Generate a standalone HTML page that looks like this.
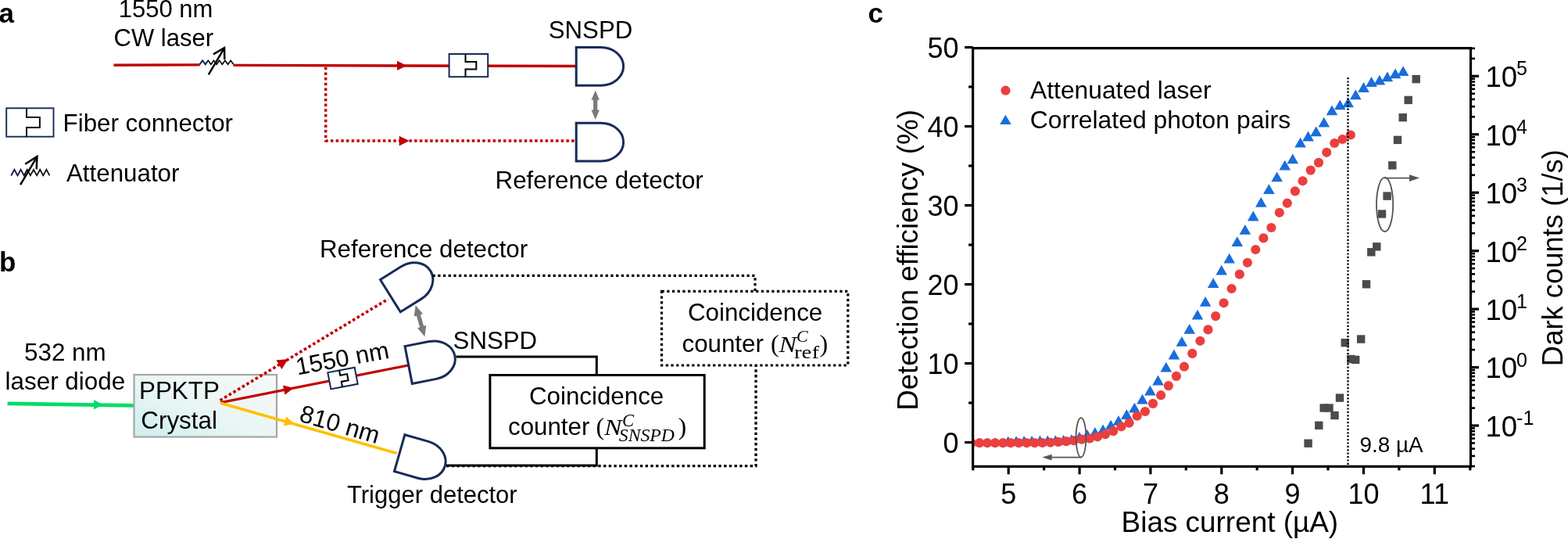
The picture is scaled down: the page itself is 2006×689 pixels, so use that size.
<!DOCTYPE html><html><head><meta charset="utf-8"><style>html,body{margin:0;padding:0;background:#fff;overflow:hidden;width:2006px;height:689px}svg{display:block}</style></head><body><svg width="2006" height="689" viewBox="0 0 2006 689">
<defs><linearGradient id="cg" x1="0" y1="1" x2="1" y2="0"><stop offset="0" stop-color="#cdefee"/><stop offset="0.45" stop-color="#e9f6f5"/><stop offset="1" stop-color="#f8f8f8"/></linearGradient></defs>
<rect width="2006" height="689" fill="#fff"/>
<text x="-1.5" y="29.3" font-size="35" font-family="'Liberation Sans', Arial, sans-serif" font-weight="bold" text-anchor="start" fill="#000" >a</text>
<text x="-1.0" y="347.3" font-size="35" font-family="'Liberation Sans', Arial, sans-serif" font-weight="bold" text-anchor="start" fill="#000" >b</text>
<text x="1110.5" y="29.3" font-size="35" font-family="'Liberation Sans', Arial, sans-serif" font-weight="bold" text-anchor="start" fill="#000" >c</text>
<text x="151.8" y="22.3" font-size="31" font-family="'Liberation Sans', Arial, sans-serif" font-weight="normal" text-anchor="start" fill="#000" >1550 nm</text>
<text x="145.5" y="59.0" font-size="31" font-family="'Liberation Sans', Arial, sans-serif" font-weight="normal" text-anchor="start" fill="#000" >CW laser</text>
<line x1="145.5" y1="83.3" x2="255.7" y2="82.9" stroke="#c00000" stroke-width="3.4" />
<line x1="298.5" y1="83.4" x2="737.0" y2="84.5" stroke="#c00000" stroke-width="3.4" />
<polyline points="255.5,82.3 259.1,77.3 262.7,82.3 266.3,77.3 269.9,82.3 273.5,77.3 277.1,82.3 280.7,77.3 284.3,82.3 287.9,77.3 291.5,82.3 295.1,77.3 298.7,82.3" fill="none" stroke="#000" stroke-width="1.6"/>
<polyline points="255.5,82.3 259.1,77.3 262.7,82.3 266.3,77.3" fill="none" stroke="#172b57" stroke-width="1.6"/>
<line x1="266.8" y1="95.3" x2="287.0" y2="61.4" stroke="#000" stroke-width="2.5" />
<polyline points="272.9,69.3 287.0,61.2 287.3,76.1" fill="none" stroke="#000" stroke-width="2.5"/>
<polygon points="520.5,83.9 508.0,90.1 508.0,77.7" fill="#c00000" />
<g >
<rect x="574.6" y="69.0" width="49.6" height="29.2" fill="#fff" stroke="#172b57" stroke-width="2.0"/>
<path d="M595.5,69.0 V79.1 H609.3 V88.4 H595.5 V98.2" fill="none" stroke="#000" stroke-width="2.0"/>
</g>
<polyline points="416.7,84 416.7,180 737,180" fill="none" stroke="#c00000" stroke-width="3.5" stroke-dasharray="3.5 3.2" stroke-dashoffset="5"/>
<polygon points="523.5,180.1 510.7,186.4 510.7,173.8" fill="#c00000" />
<path transform="translate(737.2,60.5) rotate(0)" d="M0,0 H31.5 A28.9,24.35 0 0 1 31.5,48.7 H0 Z" fill="none" stroke="#172b57" stroke-width="3" stroke-linejoin="miter"/>
<path transform="translate(737.2,157.3) rotate(0)" d="M0,0 H31.5 A28.9,24.35 0 0 1 31.5,48.7 H0 Z" fill="none" stroke="#172b57" stroke-width="3" stroke-linejoin="miter"/>
<polygon transform="translate(761.7,134.2) rotate(0)" points="0.0,-18.8 5.2,-6.4 2.6,-6.4 2.6,6.4 5.2,6.4 0.0,18.8 -5.2,6.4 -2.6,6.4 -2.6,-6.4 -5.2,-6.4" fill="#7c7979"/>
<text x="701.8" y="49.0" font-size="31.2" font-family="'Liberation Sans', Arial, sans-serif" font-weight="normal" text-anchor="start" fill="#000" >SNSPD</text>
<text x="633.6" y="240.7" font-size="31.3" font-family="'Liberation Sans', Arial, sans-serif" font-weight="normal" text-anchor="start" fill="#000" >Reference detector</text>
<g >
<rect x="8.2" y="138.3" width="60.3" height="36.4" fill="#fff" stroke="#172b57" stroke-width="1.9"/>
<path d="M34.0,138.3 V149.9 H50.9 V163.0 H34.0 V174.7" fill="none" stroke="#000" stroke-width="1.9"/>
</g>
<text x="80.6" y="167.7" font-size="31.3" font-family="'Liberation Sans', Arial, sans-serif" font-weight="normal" text-anchor="start" fill="#000" >Fiber connector</text>
<polyline points="14.3,224.4 18.4,216.8 22.5,224.4 26.6,216.8 30.7,224.4 34.8,216.8 38.9,224.4 43.0,216.8 47.1,224.4 51.2,216.8 55.3,224.4 59.4,216.8 63.5,224.4" fill="none" stroke="#000" stroke-width="1.6"/>
<polyline points="14.3,224.4 18.4,216.8 22.5,224.4 26.6,216.8" fill="none" stroke="#172b57" stroke-width="1.6"/>
<line x1="26.1" y1="236.1" x2="47.4" y2="200.4" stroke="#000" stroke-width="2.5" />
<polyline points="32.2,209.8 47.4,200.2 46.7,216.4" fill="none" stroke="#000" stroke-width="2.5"/>
<text x="85.0" y="231.6" font-size="31.3" font-family="'Liberation Sans', Arial, sans-serif" font-weight="normal" text-anchor="start" fill="#000" >Attenuator</text>
<text x="31.0" y="460.9" font-size="31.4" font-family="'Liberation Sans', Arial, sans-serif" font-weight="normal" text-anchor="start" fill="#000" >532 nm</text>
<text x="6.6" y="498.4" font-size="31.4" font-family="'Liberation Sans', Arial, sans-serif" font-weight="normal" text-anchor="start" fill="#000" >laser diode</text>
<line x1="9.6" y1="515.9" x2="171.5" y2="518.4" stroke="#00dd66" stroke-width="4.6" />
<polygon points="131.5,517.4 119.9,523.4 120.1,511.0" fill="#00dd66" />
<rect x="171.5" y="479.0" width="182.5" height="79.5" fill="url(#cg)" stroke="#a6a6a6" stroke-width="2.2"/>
<text x="178.0" y="509.8" font-size="31.4" font-family="'Liberation Sans', Arial, sans-serif" font-weight="normal" text-anchor="start" fill="#000" >PPKTP</text>
<text x="180.3" y="547.5" font-size="31.4" font-family="'Liberation Sans', Arial, sans-serif" font-weight="normal" text-anchor="start" fill="#000" >Crystal</text>
<line x1="281.5" y1="511.8" x2="496.5" y2="382.3" stroke="#c00000" stroke-width="3.6" stroke-dasharray="3.6 3.0"/>
<line x1="282.3" y1="514.6" x2="523.3" y2="466.8" stroke="#c00000" stroke-width="3.2" />
<line x1="282.3" y1="515.2" x2="507.8" y2="579.5" stroke="#ffc000" stroke-width="3.6" />
<polygon points="368.5,459.2 360.4,472.0 353.4,460.3" fill="#c00000" />
<polygon points="375.5,496.1 364.5,504.7 362.0,492.4" fill="#c00000" />
<polygon points="376.5,541.8 362.7,544.4 366.2,532.3" fill="#ffc000" />
<g transform="rotate(-10.8 438.5 483.6)">
<rect x="421.0" y="472.8" width="35.0" height="21.5" fill="#fff" stroke="#172b57" stroke-width="2.0"/>
<path d="M436.0,472.8 V479.2 H445.0 V487.5 H436.0 V494.3" fill="none" stroke="#000" stroke-width="2.0"/>
</g>
<path transform="translate(486.5,357.5) rotate(-32)" d="M0,0 H31.5 A28.9,24.35 0 0 1 31.5,48.7 H0 Z" fill="none" stroke="#172b57" stroke-width="3" stroke-linejoin="miter"/>
<path transform="translate(518.0,442.6) rotate(-11)" d="M0,0 H31.5 A28.9,24.35 0 0 1 31.5,48.7 H0 Z" fill="none" stroke="#172b57" stroke-width="3" stroke-linejoin="miter"/>
<path transform="translate(517.9,555.7) rotate(16)" d="M0,0 H31.5 A28.9,24.35 0 0 1 31.5,48.7 H0 Z" fill="none" stroke="#172b57" stroke-width="3" stroke-linejoin="miter"/>
<polygon transform="translate(537.5,410.2) rotate(-16.4)" points="0.0,-20.8 5.9,-7.6 2.6,-7.6 2.6,7.6 5.9,7.6 0.0,20.8 -5.9,7.6 -2.6,7.6 -2.6,-7.6 -5.9,-7.6" fill="#7c7979"/>
<text x="0.0" y="0.0" font-size="31" font-family="'Liberation Sans', Arial, sans-serif" font-weight="normal" text-anchor="start" fill="#000" transform="translate(380.5,479.5) rotate(-10.5)">1550 nm</text>
<text x="0.0" y="0.0" font-size="31.4" font-family="'Liberation Sans', Arial, sans-serif" font-weight="normal" text-anchor="start" fill="#000" transform="translate(381.5,538.0) rotate(16.3)">810 nm</text>
<text x="409.0" y="328.6" font-size="31.3" font-family="'Liberation Sans', Arial, sans-serif" font-weight="normal" text-anchor="start" fill="#000" >Reference detector</text>
<text x="579.6" y="446.1" font-size="31.2" font-family="'Liberation Sans', Arial, sans-serif" font-weight="normal" text-anchor="start" fill="#000" >SNSPD</text>
<text x="444.0" y="643.1" font-size="31" font-family="'Liberation Sans', Arial, sans-serif" font-weight="normal" text-anchor="start" fill="#000" >Trigger detector</text>
<polyline points="583.6,456 763.3,456 763.3,479.5" fill="none" stroke="#000" stroke-width="3"/>
<rect x="626.9" y="479.5" width="274.3" height="93.3" fill="none" stroke="#000" stroke-width="3"/>
<polyline points="763.3,572.8 763.3,595.0 571.0,595.0" fill="none" stroke="#000" stroke-width="3"/>
<polyline points="571,595.6 967,595.6 967,467" fill="none" stroke="#000" stroke-width="3.3" stroke-dasharray="3.4 3.3"/>
<rect x="846.5" y="372.3" width="238.3" height="94.7" fill="none" stroke="#000" stroke-width="3.2" stroke-dasharray="3.3 3.4"/>
<polyline points="553.5,352.4 966,352.4 966,372.3" fill="none" stroke="#000" stroke-width="3.2" stroke-dasharray="3.3 3.4"/>
<text x="677.0" y="517.2" font-size="31.3" font-family="'Liberation Sans', Arial, sans-serif" font-weight="normal" text-anchor="start" fill="#000" >Coincidence</text>
<text x="650.0" y="556.3" font-size="31.3" font-family="'Liberation Sans', Arial, sans-serif">counter</text>
<text x="762.5" y="556.3" font-size="32" font-family="'Liberation Serif', 'Times New Roman', serif"  >(</text>
<text x="773.0" y="556.3" font-size="30" font-family="'Liberation Serif', 'Times New Roman', serif" font-style="italic" textLength="22.5" lengthAdjust="spacingAndGlyphs">N</text>
<text x="796.0" y="544.6" font-size="22.6" font-family="'Liberation Serif', 'Times New Roman', serif" font-style="italic" >C</text>
<text x="791.8" y="564.0" font-size="22.6" font-family="'Liberation Serif', 'Times New Roman', serif" font-style="italic" textLength="71" lengthAdjust="spacingAndGlyphs">SNSPD</text>
<text x="867.5" y="556.3" font-size="32" font-family="'Liberation Serif', 'Times New Roman', serif"  >)</text>
<text x="880.0" y="410.1" font-size="31.3" font-family="'Liberation Sans', Arial, sans-serif" font-weight="normal" text-anchor="start" fill="#000" >Coincidence</text>
<text x="872.5" y="449.7" font-size="31.3" font-family="'Liberation Sans', Arial, sans-serif">counter</text>
<text x="986.0" y="449.7" font-size="32" font-family="'Liberation Serif', 'Times New Roman', serif"  >(</text>
<text x="996.5" y="449.7" font-size="30" font-family="'Liberation Serif', 'Times New Roman', serif" font-style="italic" textLength="22.5" lengthAdjust="spacingAndGlyphs">N</text>
<text x="1019.0" y="437.1" font-size="22" font-family="'Liberation Serif', 'Times New Roman', serif" font-style="italic" >C</text>
<text x="1016.0" y="457.8" font-size="24" font-family="'Liberation Serif', 'Times New Roman', serif"  textLength="32" lengthAdjust="spacingAndGlyphs">ref</text>
<text x="1048.5" y="449.7" font-size="32" font-family="'Liberation Serif', 'Times New Roman', serif"  >)</text>
<line x1="1234.1" y1="565.5" x2="1244.6" y2="565.5" stroke="#000" stroke-width="3.2" />
<text x="1226.5" y="578.5" font-size="36" font-family="'Liberation Sans', Arial, sans-serif" font-weight="normal" text-anchor="end" fill="#000" >0</text>
<line x1="1234.1" y1="464.5" x2="1244.6" y2="464.5" stroke="#000" stroke-width="3.2" />
<text x="1226.5" y="477.5" font-size="36" font-family="'Liberation Sans', Arial, sans-serif" font-weight="normal" text-anchor="end" fill="#000" >10</text>
<line x1="1234.1" y1="363.5" x2="1244.6" y2="363.5" stroke="#000" stroke-width="3.2" />
<text x="1226.5" y="376.5" font-size="36" font-family="'Liberation Sans', Arial, sans-serif" font-weight="normal" text-anchor="end" fill="#000" >20</text>
<line x1="1234.1" y1="262.5" x2="1244.6" y2="262.5" stroke="#000" stroke-width="3.2" />
<text x="1226.5" y="275.5" font-size="36" font-family="'Liberation Sans', Arial, sans-serif" font-weight="normal" text-anchor="end" fill="#000" >30</text>
<line x1="1234.1" y1="161.5" x2="1244.6" y2="161.5" stroke="#000" stroke-width="3.2" />
<text x="1226.5" y="174.5" font-size="36" font-family="'Liberation Sans', Arial, sans-serif" font-weight="normal" text-anchor="end" fill="#000" >40</text>
<line x1="1234.1" y1="60.5" x2="1244.6" y2="60.5" stroke="#000" stroke-width="3.2" />
<text x="1226.5" y="73.5" font-size="36" font-family="'Liberation Sans', Arial, sans-serif" font-weight="normal" text-anchor="end" fill="#000" >50</text>
<line x1="1239.1" y1="515.0" x2="1244.6" y2="515.0" stroke="#000" stroke-width="3.2" />
<line x1="1239.1" y1="414.0" x2="1244.6" y2="414.0" stroke="#000" stroke-width="3.2" />
<line x1="1239.1" y1="313.0" x2="1244.6" y2="313.0" stroke="#000" stroke-width="3.2" />
<line x1="1239.1" y1="212.0" x2="1244.6" y2="212.0" stroke="#000" stroke-width="3.2" />
<line x1="1239.1" y1="111.0" x2="1244.6" y2="111.0" stroke="#000" stroke-width="3.2" />
<line x1="1290.2" y1="596.3" x2="1290.2" y2="606.3" stroke="#000" stroke-width="3.2" />
<text x="1290.2" y="643.5" font-size="36" font-family="'Liberation Sans', Arial, sans-serif" font-weight="normal" text-anchor="middle" fill="#000" >5</text>
<line x1="1381.1" y1="596.3" x2="1381.1" y2="606.3" stroke="#000" stroke-width="3.2" />
<text x="1381.1" y="643.5" font-size="36" font-family="'Liberation Sans', Arial, sans-serif" font-weight="normal" text-anchor="middle" fill="#000" >6</text>
<line x1="1471.9" y1="596.3" x2="1471.9" y2="606.3" stroke="#000" stroke-width="3.2" />
<text x="1471.9" y="643.5" font-size="36" font-family="'Liberation Sans', Arial, sans-serif" font-weight="normal" text-anchor="middle" fill="#000" >7</text>
<line x1="1562.8" y1="596.3" x2="1562.8" y2="606.3" stroke="#000" stroke-width="3.2" />
<text x="1562.8" y="643.5" font-size="36" font-family="'Liberation Sans', Arial, sans-serif" font-weight="normal" text-anchor="middle" fill="#000" >8</text>
<line x1="1653.6" y1="596.3" x2="1653.6" y2="606.3" stroke="#000" stroke-width="3.2" />
<text x="1653.6" y="643.5" font-size="36" font-family="'Liberation Sans', Arial, sans-serif" font-weight="normal" text-anchor="middle" fill="#000" >9</text>
<line x1="1744.5" y1="596.3" x2="1744.5" y2="606.3" stroke="#000" stroke-width="3.2" />
<text x="1744.5" y="643.5" font-size="36" font-family="'Liberation Sans', Arial, sans-serif" font-weight="normal" text-anchor="middle" fill="#000" >10</text>
<line x1="1835.3" y1="596.3" x2="1835.3" y2="606.3" stroke="#000" stroke-width="3.2" />
<text x="1835.3" y="643.5" font-size="36" font-family="'Liberation Sans', Arial, sans-serif" font-weight="normal" text-anchor="middle" fill="#000" >11</text>
<line x1="1244.8" y1="596.3" x2="1244.8" y2="601.3" stroke="#000" stroke-width="3.2" />
<line x1="1335.6" y1="596.3" x2="1335.6" y2="601.3" stroke="#000" stroke-width="3.2" />
<line x1="1426.5" y1="596.3" x2="1426.5" y2="601.3" stroke="#000" stroke-width="3.2" />
<line x1="1517.3" y1="596.3" x2="1517.3" y2="601.3" stroke="#000" stroke-width="3.2" />
<line x1="1608.2" y1="596.3" x2="1608.2" y2="601.3" stroke="#000" stroke-width="3.2" />
<line x1="1699.0" y1="596.3" x2="1699.0" y2="601.3" stroke="#000" stroke-width="3.2" />
<line x1="1789.9" y1="596.3" x2="1789.9" y2="601.3" stroke="#000" stroke-width="3.2" />
<line x1="1880.8" y1="596.3" x2="1880.8" y2="601.3" stroke="#000" stroke-width="3.2" />
<line x1="1881.5" y1="596.0" x2="1887.0" y2="596.0" stroke="#000" stroke-width="2.6" />
<line x1="1881.5" y1="582.9" x2="1887.0" y2="582.9" stroke="#000" stroke-width="2.6" />
<line x1="1881.5" y1="573.6" x2="1887.0" y2="573.6" stroke="#000" stroke-width="2.6" />
<line x1="1881.5" y1="566.4" x2="1887.0" y2="566.4" stroke="#000" stroke-width="2.6" />
<line x1="1881.5" y1="560.5" x2="1887.0" y2="560.5" stroke="#000" stroke-width="2.6" />
<line x1="1881.5" y1="555.5" x2="1887.0" y2="555.5" stroke="#000" stroke-width="2.6" />
<line x1="1881.5" y1="551.2" x2="1887.0" y2="551.2" stroke="#000" stroke-width="2.6" />
<line x1="1881.5" y1="547.4" x2="1887.0" y2="547.4" stroke="#000" stroke-width="2.6" />
<line x1="1881.5" y1="544.0" x2="1892.0" y2="544.0" stroke="#000" stroke-width="3.2" />
<text x="1900.5" y="557.8" font-size="36.5" font-family="'Liberation Sans', Arial, sans-serif">10<tspan dx="-1.0" dy="-14.9" font-size="25">-1</tspan></text>
<line x1="1881.5" y1="521.6" x2="1887.0" y2="521.6" stroke="#000" stroke-width="2.6" />
<line x1="1881.5" y1="508.5" x2="1887.0" y2="508.5" stroke="#000" stroke-width="2.6" />
<line x1="1881.5" y1="499.2" x2="1887.0" y2="499.2" stroke="#000" stroke-width="2.6" />
<line x1="1881.5" y1="492.0" x2="1887.0" y2="492.0" stroke="#000" stroke-width="2.6" />
<line x1="1881.5" y1="486.1" x2="1887.0" y2="486.1" stroke="#000" stroke-width="2.6" />
<line x1="1881.5" y1="481.1" x2="1887.0" y2="481.1" stroke="#000" stroke-width="2.6" />
<line x1="1881.5" y1="476.8" x2="1887.0" y2="476.8" stroke="#000" stroke-width="2.6" />
<line x1="1881.5" y1="473.0" x2="1887.0" y2="473.0" stroke="#000" stroke-width="2.6" />
<line x1="1881.5" y1="469.6" x2="1892.0" y2="469.6" stroke="#000" stroke-width="3.2" />
<text x="1900.5" y="483.4" font-size="36.5" font-family="'Liberation Sans', Arial, sans-serif">10<tspan dx="-1.0" dy="-14.9" font-size="25">0</tspan></text>
<line x1="1881.5" y1="447.1" x2="1887.0" y2="447.1" stroke="#000" stroke-width="2.6" />
<line x1="1881.5" y1="434.0" x2="1887.0" y2="434.0" stroke="#000" stroke-width="2.6" />
<line x1="1881.5" y1="424.7" x2="1887.0" y2="424.7" stroke="#000" stroke-width="2.6" />
<line x1="1881.5" y1="417.5" x2="1887.0" y2="417.5" stroke="#000" stroke-width="2.6" />
<line x1="1881.5" y1="411.6" x2="1887.0" y2="411.6" stroke="#000" stroke-width="2.6" />
<line x1="1881.5" y1="406.6" x2="1887.0" y2="406.6" stroke="#000" stroke-width="2.6" />
<line x1="1881.5" y1="402.3" x2="1887.0" y2="402.3" stroke="#000" stroke-width="2.6" />
<line x1="1881.5" y1="398.5" x2="1887.0" y2="398.5" stroke="#000" stroke-width="2.6" />
<line x1="1881.5" y1="395.1" x2="1892.0" y2="395.1" stroke="#000" stroke-width="3.2" />
<text x="1900.5" y="408.9" font-size="36.5" font-family="'Liberation Sans', Arial, sans-serif">10<tspan dx="-1.0" dy="-14.9" font-size="25">1</tspan></text>
<line x1="1881.5" y1="372.7" x2="1887.0" y2="372.7" stroke="#000" stroke-width="2.6" />
<line x1="1881.5" y1="359.6" x2="1887.0" y2="359.6" stroke="#000" stroke-width="2.6" />
<line x1="1881.5" y1="350.3" x2="1887.0" y2="350.3" stroke="#000" stroke-width="2.6" />
<line x1="1881.5" y1="343.1" x2="1887.0" y2="343.1" stroke="#000" stroke-width="2.6" />
<line x1="1881.5" y1="337.2" x2="1887.0" y2="337.2" stroke="#000" stroke-width="2.6" />
<line x1="1881.5" y1="332.2" x2="1887.0" y2="332.2" stroke="#000" stroke-width="2.6" />
<line x1="1881.5" y1="327.9" x2="1887.0" y2="327.9" stroke="#000" stroke-width="2.6" />
<line x1="1881.5" y1="324.1" x2="1887.0" y2="324.1" stroke="#000" stroke-width="2.6" />
<line x1="1881.5" y1="320.7" x2="1892.0" y2="320.7" stroke="#000" stroke-width="3.2" />
<text x="1900.5" y="334.5" font-size="36.5" font-family="'Liberation Sans', Arial, sans-serif">10<tspan dx="-1.0" dy="-14.9" font-size="25">2</tspan></text>
<line x1="1881.5" y1="298.2" x2="1887.0" y2="298.2" stroke="#000" stroke-width="2.6" />
<line x1="1881.5" y1="285.1" x2="1887.0" y2="285.1" stroke="#000" stroke-width="2.6" />
<line x1="1881.5" y1="275.8" x2="1887.0" y2="275.8" stroke="#000" stroke-width="2.6" />
<line x1="1881.5" y1="268.6" x2="1887.0" y2="268.6" stroke="#000" stroke-width="2.6" />
<line x1="1881.5" y1="262.7" x2="1887.0" y2="262.7" stroke="#000" stroke-width="2.6" />
<line x1="1881.5" y1="257.7" x2="1887.0" y2="257.7" stroke="#000" stroke-width="2.6" />
<line x1="1881.5" y1="253.4" x2="1887.0" y2="253.4" stroke="#000" stroke-width="2.6" />
<line x1="1881.5" y1="249.6" x2="1887.0" y2="249.6" stroke="#000" stroke-width="2.6" />
<line x1="1881.5" y1="246.2" x2="1892.0" y2="246.2" stroke="#000" stroke-width="3.2" />
<text x="1900.5" y="260.0" font-size="36.5" font-family="'Liberation Sans', Arial, sans-serif">10<tspan dx="-1.0" dy="-14.9" font-size="25">3</tspan></text>
<line x1="1881.5" y1="223.8" x2="1887.0" y2="223.8" stroke="#000" stroke-width="2.6" />
<line x1="1881.5" y1="210.7" x2="1887.0" y2="210.7" stroke="#000" stroke-width="2.6" />
<line x1="1881.5" y1="201.4" x2="1887.0" y2="201.4" stroke="#000" stroke-width="2.6" />
<line x1="1881.5" y1="194.2" x2="1887.0" y2="194.2" stroke="#000" stroke-width="2.6" />
<line x1="1881.5" y1="188.3" x2="1887.0" y2="188.3" stroke="#000" stroke-width="2.6" />
<line x1="1881.5" y1="183.3" x2="1887.0" y2="183.3" stroke="#000" stroke-width="2.6" />
<line x1="1881.5" y1="179.0" x2="1887.0" y2="179.0" stroke="#000" stroke-width="2.6" />
<line x1="1881.5" y1="175.2" x2="1887.0" y2="175.2" stroke="#000" stroke-width="2.6" />
<line x1="1881.5" y1="171.8" x2="1892.0" y2="171.8" stroke="#000" stroke-width="3.2" />
<text x="1900.5" y="185.6" font-size="36.5" font-family="'Liberation Sans', Arial, sans-serif">10<tspan dx="-1.0" dy="-14.9" font-size="25">4</tspan></text>
<line x1="1881.5" y1="149.3" x2="1887.0" y2="149.3" stroke="#000" stroke-width="2.6" />
<line x1="1881.5" y1="136.2" x2="1887.0" y2="136.2" stroke="#000" stroke-width="2.6" />
<line x1="1881.5" y1="126.9" x2="1887.0" y2="126.9" stroke="#000" stroke-width="2.6" />
<line x1="1881.5" y1="119.7" x2="1887.0" y2="119.7" stroke="#000" stroke-width="2.6" />
<line x1="1881.5" y1="113.8" x2="1887.0" y2="113.8" stroke="#000" stroke-width="2.6" />
<line x1="1881.5" y1="108.8" x2="1887.0" y2="108.8" stroke="#000" stroke-width="2.6" />
<line x1="1881.5" y1="104.5" x2="1887.0" y2="104.5" stroke="#000" stroke-width="2.6" />
<line x1="1881.5" y1="100.7" x2="1887.0" y2="100.7" stroke="#000" stroke-width="2.6" />
<line x1="1881.5" y1="97.3" x2="1892.0" y2="97.3" stroke="#000" stroke-width="3.2" />
<text x="1900.5" y="111.1" font-size="36.5" font-family="'Liberation Sans', Arial, sans-serif">10<tspan dx="-1.0" dy="-14.9" font-size="25">5</tspan></text>
<line x1="1881.5" y1="74.9" x2="1887.0" y2="74.9" stroke="#000" stroke-width="2.6" />
<line x1="1881.5" y1="61.8" x2="1887.0" y2="61.8" stroke="#000" stroke-width="2.6" />
<text x="0.0" y="0.0" font-size="36.7" font-family="'Liberation Sans', Arial, sans-serif" font-weight="normal" text-anchor="middle" fill="#000" transform="translate(1174.0,332.5) rotate(-90)">Detection efficiency (%)</text>
<text x="0.0" y="0.0" font-size="36.4" font-family="'Liberation Sans', Arial, sans-serif" font-weight="normal" text-anchor="middle" fill="#000" transform="translate(1999.0,329.6) rotate(-90)">Dark counts (1/s)</text>
<text x="1434.6" y="679.8" font-size="36.9" font-family="'Liberation Sans', Arial, sans-serif" font-weight="normal" text-anchor="start" fill="#000" >Bias current (µA)</text>
<polygon points="1289.7,557.6 1297.0,570.4 1282.4,570.4" fill="#1a6ddb" />
<polygon points="1300.1,557.2 1307.4,570.0 1292.8,570.0" fill="#1a6ddb" />
<polygon points="1310.1,557.1 1317.4,569.9 1302.8,569.9" fill="#1a6ddb" />
<polygon points="1320.1,557.0 1327.4,569.8 1312.8,569.8" fill="#1a6ddb" />
<polygon points="1330.5,556.6 1337.8,569.4 1323.2,569.4" fill="#1a6ddb" />
<polygon points="1340.3,556.4 1347.6,569.2 1333.0,569.2" fill="#1a6ddb" />
<polygon points="1350.4,556.2 1357.7,569.0 1343.1,569.0" fill="#1a6ddb" />
<polygon points="1360.6,555.9 1367.9,568.7 1353.3,568.7" fill="#1a6ddb" />
<polygon points="1370.7,555.2 1378.0,568.0 1363.4,568.0" fill="#1a6ddb" />
<polygon points="1380.9,551.9 1388.2,564.7 1373.6,564.7" fill="#1a6ddb" />
<polygon points="1391.0,549.0 1398.3,561.8 1383.7,561.8" fill="#1a6ddb" />
<polygon points="1400.9,546.1 1408.2,558.9 1393.6,558.9" fill="#1a6ddb" />
<polygon points="1411.1,542.5 1418.4,555.3 1403.8,555.3" fill="#1a6ddb" />
<polygon points="1421.1,536.7 1428.4,549.5 1413.8,549.5" fill="#1a6ddb" />
<polygon points="1431.0,530.9 1438.3,543.7 1423.7,543.7" fill="#1a6ddb" />
<polygon points="1441.4,523.2 1448.7,536.0 1434.1,536.0" fill="#1a6ddb" />
<polygon points="1451.4,514.8 1458.7,527.6 1444.1,527.6" fill="#1a6ddb" />
<polygon points="1461.5,503.7 1468.8,516.5 1454.2,516.5" fill="#1a6ddb" />
<polygon points="1471.4,492.7 1478.7,505.5 1464.1,505.5" fill="#1a6ddb" />
<polygon points="1481.5,479.6 1488.8,492.4 1474.2,492.4" fill="#1a6ddb" />
<polygon points="1491.8,462.8 1499.1,475.6 1484.5,475.6" fill="#1a6ddb" />
<polygon points="1501.9,446.6 1509.2,459.4 1494.6,459.4" fill="#1a6ddb" />
<polygon points="1511.9,429.9 1519.2,442.7 1504.6,442.7" fill="#1a6ddb" />
<polygon points="1521.7,414.0 1529.0,426.8 1514.4,426.8" fill="#1a6ddb" />
<polygon points="1532.0,395.7 1539.3,408.5 1524.7,408.5" fill="#1a6ddb" />
<polygon points="1542.1,379.0 1549.4,391.8 1534.8,391.8" fill="#1a6ddb" />
<polygon points="1552.2,355.2 1559.5,368.0 1544.9,368.0" fill="#1a6ddb" />
<polygon points="1562.7,338.8 1570.0,351.6 1555.4,351.6" fill="#1a6ddb" />
<polygon points="1572.7,323.8 1580.0,336.6 1565.4,336.6" fill="#1a6ddb" />
<polygon points="1582.8,302.2 1590.1,315.0 1575.5,315.0" fill="#1a6ddb" />
<polygon points="1592.9,287.0 1600.2,299.8 1585.6,299.8" fill="#1a6ddb" />
<polygon points="1603.3,269.6 1610.6,282.4 1596.0,282.4" fill="#1a6ddb" />
<polygon points="1613.3,251.9 1620.6,264.7 1606.0,264.7" fill="#1a6ddb" />
<polygon points="1623.4,235.2 1630.7,248.0 1616.1,248.0" fill="#1a6ddb" />
<polygon points="1633.7,219.4 1641.0,232.2 1626.4,232.2" fill="#1a6ddb" />
<polygon points="1643.8,204.7 1651.1,217.5 1636.5,217.5" fill="#1a6ddb" />
<polygon points="1653.8,196.5 1661.1,209.3 1646.5,209.3" fill="#1a6ddb" />
<polygon points="1663.6,175.8 1670.9,188.6 1656.3,188.6" fill="#1a6ddb" />
<polygon points="1673.6,167.6 1680.9,180.4 1666.3,180.4" fill="#1a6ddb" />
<polygon points="1683.7,161.4 1691.0,174.2 1676.4,174.2" fill="#1a6ddb" />
<polygon points="1693.8,149.7 1701.1,162.5 1686.5,162.5" fill="#1a6ddb" />
<polygon points="1704.0,134.5 1711.3,147.3 1696.7,147.3" fill="#1a6ddb" />
<polygon points="1714.3,127.4 1721.6,140.2 1707.0,140.2" fill="#1a6ddb" />
<polygon points="1724.7,124.5 1732.0,137.3 1717.4,137.3" fill="#1a6ddb" />
<polygon points="1734.3,114.5 1741.6,127.3 1727.0,127.3" fill="#1a6ddb" />
<polygon points="1744.5,105.1 1751.8,117.9 1737.2,117.9" fill="#1a6ddb" />
<polygon points="1754.5,98.1 1761.8,110.9 1747.2,110.9" fill="#1a6ddb" />
<polygon points="1764.9,95.7 1772.2,108.5 1757.6,108.5" fill="#1a6ddb" />
<polygon points="1774.9,91.5 1782.2,104.3 1767.6,104.3" fill="#1a6ddb" />
<polygon points="1785.1,87.4 1792.4,100.2 1777.8,100.2" fill="#1a6ddb" />
<polygon points="1795.1,84.3 1802.4,97.1 1787.8,97.1" fill="#1a6ddb" />
<defs><clipPath id="pc"><rect x="1244.6" y="61.6" width="636.9000000000001" height="534.6999999999999"/></clipPath></defs><g clip-path="url(#pc)">
<circle cx="1242.9" cy="566.2" r="6.1" fill="#eb3f3f"/>
<circle cx="1253.1" cy="566.2" r="6.1" fill="#eb3f3f"/>
<circle cx="1263.1" cy="566.2" r="6.1" fill="#eb3f3f"/>
<circle cx="1273.1" cy="566.2" r="6.1" fill="#eb3f3f"/>
<circle cx="1283.1" cy="566.2" r="6.1" fill="#eb3f3f"/>
<circle cx="1293.1" cy="566.2" r="6.1" fill="#eb3f3f"/>
<circle cx="1303.3" cy="566.2" r="6.1" fill="#eb3f3f"/>
<circle cx="1313.6" cy="566.1" r="6.1" fill="#eb3f3f"/>
<circle cx="1323.6" cy="566.1" r="6.1" fill="#eb3f3f"/>
<circle cx="1333.6" cy="566.0" r="6.1" fill="#eb3f3f"/>
<circle cx="1343.8" cy="565.6" r="6.1" fill="#eb3f3f"/>
<circle cx="1353.9" cy="564.9" r="6.1" fill="#eb3f3f"/>
<circle cx="1364.1" cy="564.1" r="6.1" fill="#eb3f3f"/>
<circle cx="1373.8" cy="563.2" r="6.1" fill="#eb3f3f"/>
<circle cx="1383.9" cy="561.6" r="6.1" fill="#eb3f3f"/>
<circle cx="1394.1" cy="560.5" r="6.1" fill="#eb3f3f"/>
<circle cx="1404.1" cy="558.3" r="6.1" fill="#eb3f3f"/>
<circle cx="1414.1" cy="555.1" r="6.1" fill="#eb3f3f"/>
<circle cx="1424.3" cy="551.1" r="6.1" fill="#eb3f3f"/>
<circle cx="1434.5" cy="545.3" r="6.1" fill="#eb3f3f"/>
<circle cx="1444.6" cy="540.6" r="6.1" fill="#eb3f3f"/>
<circle cx="1454.7" cy="531.7" r="6.1" fill="#eb3f3f"/>
<circle cx="1465.0" cy="526.0" r="6.1" fill="#eb3f3f"/>
<circle cx="1475.0" cy="515.9" r="6.1" fill="#eb3f3f"/>
<circle cx="1485.1" cy="505.2" r="6.1" fill="#eb3f3f"/>
<circle cx="1494.9" cy="493.1" r="6.1" fill="#eb3f3f"/>
<circle cx="1504.9" cy="480.9" r="6.1" fill="#eb3f3f"/>
<circle cx="1515.0" cy="468.7" r="6.1" fill="#eb3f3f"/>
<circle cx="1525.3" cy="451.9" r="6.1" fill="#eb3f3f"/>
<circle cx="1535.4" cy="435.8" r="6.1" fill="#eb3f3f"/>
<circle cx="1545.5" cy="421.4" r="6.1" fill="#eb3f3f"/>
<circle cx="1555.2" cy="404.1" r="6.1" fill="#eb3f3f"/>
<circle cx="1565.6" cy="387.3" r="6.1" fill="#eb3f3f"/>
<circle cx="1575.6" cy="369.0" r="6.1" fill="#eb3f3f"/>
<circle cx="1585.8" cy="350.6" r="6.1" fill="#eb3f3f"/>
<circle cx="1595.9" cy="335.8" r="6.1" fill="#eb3f3f"/>
<circle cx="1606.3" cy="319.0" r="6.1" fill="#eb3f3f"/>
<circle cx="1616.4" cy="304.4" r="6.1" fill="#eb3f3f"/>
<circle cx="1626.4" cy="291.0" r="6.1" fill="#eb3f3f"/>
<circle cx="1636.8" cy="271.8" r="6.1" fill="#eb3f3f"/>
<circle cx="1646.8" cy="259.7" r="6.1" fill="#eb3f3f"/>
<circle cx="1656.9" cy="244.4" r="6.1" fill="#eb3f3f"/>
<circle cx="1666.6" cy="231.3" r="6.1" fill="#eb3f3f"/>
<circle cx="1676.7" cy="217.6" r="6.1" fill="#eb3f3f"/>
<circle cx="1687.0" cy="207.9" r="6.1" fill="#eb3f3f"/>
<circle cx="1697.2" cy="194.8" r="6.1" fill="#eb3f3f"/>
<circle cx="1707.3" cy="183.0" r="6.1" fill="#eb3f3f"/>
<circle cx="1717.5" cy="178.0" r="6.1" fill="#eb3f3f"/>
<circle cx="1727.8" cy="172.5" r="6.1" fill="#eb3f3f"/>
</g>
<rect x="1668.4" y="561.5" width="10.4" height="10.4" fill="#4b4b4b"/>
<rect x="1682.1" y="538.6" width="10.4" height="10.4" fill="#4b4b4b"/>
<rect x="1688.5" y="516.3" width="10.4" height="10.4" fill="#4b4b4b"/>
<rect x="1695.3" y="516.3" width="10.4" height="10.4" fill="#4b4b4b"/>
<rect x="1702.3" y="525.8" width="10.4" height="10.4" fill="#4b4b4b"/>
<rect x="1708.8" y="503.4" width="10.4" height="10.4" fill="#4b4b4b"/>
<rect x="1715.6" y="432.9" width="10.4" height="10.4" fill="#4b4b4b"/>
<rect x="1723.2" y="453.8" width="10.4" height="10.4" fill="#4b4b4b"/>
<rect x="1729.0" y="454.7" width="10.4" height="10.4" fill="#4b4b4b"/>
<rect x="1736.0" y="428.3" width="10.4" height="10.4" fill="#4b4b4b"/>
<rect x="1742.8" y="358.1" width="10.4" height="10.4" fill="#4b4b4b"/>
<rect x="1749.1" y="317.1" width="10.4" height="10.4" fill="#4b4b4b"/>
<rect x="1756.1" y="310.1" width="10.4" height="10.4" fill="#4b4b4b"/>
<rect x="1762.8" y="268.3" width="10.4" height="10.4" fill="#4b4b4b"/>
<rect x="1769.4" y="245.4" width="10.4" height="10.4" fill="#4b4b4b"/>
<rect x="1776.1" y="206.2" width="10.4" height="10.4" fill="#4b4b4b"/>
<rect x="1782.8" y="173.7" width="10.4" height="10.4" fill="#4b4b4b"/>
<rect x="1789.5" y="145.0" width="10.4" height="10.4" fill="#4b4b4b"/>
<rect x="1796.5" y="122.7" width="10.4" height="10.4" fill="#4b4b4b"/>
<rect x="1806.5" y="95.9" width="10.4" height="10.4" fill="#4b4b4b"/>
<rect x="1244.6" y="61.6" width="636.9000000000001" height="534.6999999999999" fill="none" stroke="#000" stroke-width="3.2"/>
<line x1="1724.5" y1="99.0" x2="1724.5" y2="596.0" stroke="#000" stroke-width="2.3" stroke-dasharray="2.2 2.2"/>
<text x="1739.5" y="578.2" font-size="27.9" font-family="'Liberation Sans', Arial, sans-serif" font-weight="normal" text-anchor="start" fill="#000" >9.8 µA</text>
<ellipse cx="1383.0" cy="559.3" rx="6.4" ry="25.2" fill="none" stroke="#555" stroke-width="1.8"/>
<line x1="1382.8" y1="584.6" x2="1344.0" y2="584.6" stroke="#555" stroke-width="1.8" />
<polygon points="1333.4,584.6 1345.6,580.7 1345.6,588.5" fill="#555" />
<ellipse cx="1771.6" cy="261.4" rx="10.6" ry="34.6" fill="none" stroke="#555" stroke-width="1.8"/>
<line x1="1771.4" y1="227.6" x2="1805.0" y2="227.6" stroke="#555" stroke-width="1.8" />
<polygon points="1816.0,227.6 1803.0,232.0 1803.0,223.2" fill="#555" />
<circle cx="1286.5" cy="115.7" r="6.1" fill="#eb3f3f"/>
<polygon points="1286.4,146.8 1293.7,159.0 1279.1,159.0" fill="#1a6ddb" />
<text x="1318.0" y="126.0" font-size="31.8" font-family="'Liberation Sans', Arial, sans-serif" font-weight="normal" text-anchor="start" fill="#000" >Attenuated laser</text>
<text x="1317.8" y="164.3" font-size="31.9" font-family="'Liberation Sans', Arial, sans-serif" font-weight="normal" text-anchor="start" fill="#000" >Correlated photon pairs</text>
</svg></body></html>
